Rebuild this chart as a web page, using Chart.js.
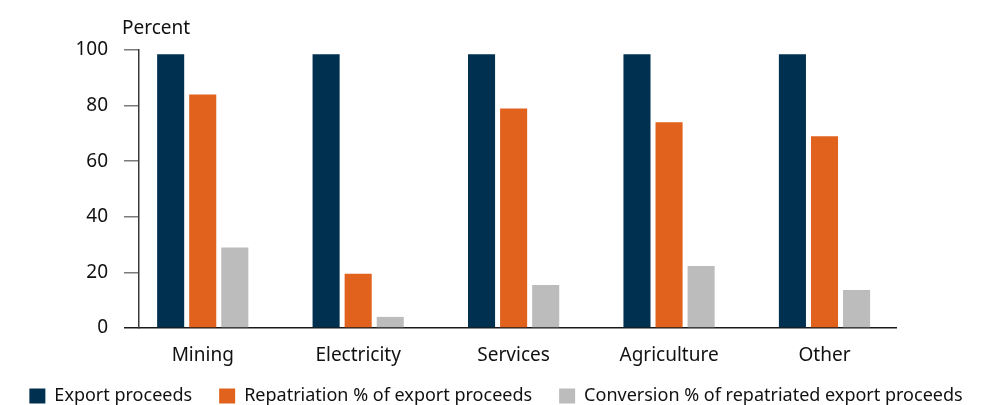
<!DOCTYPE html>
<html>
<head>
<meta charset="utf-8">
<script src="https://cdn.jsdelivr.net/npm/chart.js@4/dist/chart.umd.min.js"></script>
<style>
  html, body { margin: 0; padding: 0; background: #ffffff; }
  #wrap { width: 992px; height: 405px; position: relative; }
</style>
</head>
<body>
<div id="wrap"><canvas id="c" width="992" height="405"></canvas></div>
<script>
const categories = ['Mining', 'Electricity', 'Services', 'Agriculture', 'Other'];
const exportProceeds = [98.5, 98.5, 98.5, 98.5, 98.5];
const repatriation = [84, 19.5, 79, 74, 69];
const conversion = [29, 4, 15.5, 22.3, 13.7];
const seriesNames = ['Export proceeds', 'Repatriation % of export proceeds', 'Conversion % of repatriated export proceeds'];
const yTicks = [0, 20, 40, 60, 80, 100];
const yTitle = 'Percent';

const FONT = '"Noto Sans", "Open Sans", sans-serif';
const X_MIN = -0.41, X_MAX = 4.46;

// each bar sits at its category index on the x scale
const toPoints = (arr) => arr.map((v, i) => ({ x: i, y: v }));

const yTitlePlugin = {
  id: 'yTitlePlugin',
  afterDraw(chart) {
    const ctx = chart.ctx;
    const a = chart.chartArea;
    ctx.save();
    ctx.font = '19px ' + FONT;
    ctx.fillStyle = '#111111';
    ctx.textAlign = 'left';
    ctx.textBaseline = 'alphabetic';
    ctx.fillText(yTitle, a.left - 17, a.top - 16);
    ctx.restore();
  }
};

new Chart(document.getElementById('c'), {
  type: 'bar',
  data: {
    datasets: [
      { label: seriesNames[0], data: toPoints(exportProceeds), backgroundColor: '#00304F' },
      { label: seriesNames[1], data: toPoints(repatriation), backgroundColor: '#E1621C' },
      { label: seriesNames[2], data: toPoints(conversion), backgroundColor: '#BCBCBC' }
    ]
  },
  options: {
    responsive: false,
    animation: false,
    devicePixelRatio: 1,
    layout: { padding: { left: 0, right: 0, top: 50, bottom: 0 } },
    datasets: { bar: { categoryPercentage: 0.619, barPercentage: 0.844 } },
    scales: {
      x: {
        type: 'linear',
        offset: false,
        bounds: 'data',
        min: X_MIN, max: X_MAX,
        grid: { display: false, offset: false },
        border: { display: true, color: '#1a1a1a', width: 1.5 },
        afterBuildTicks(scale) {
          scale.ticks = categories.map((_, i) => ({ value: i }));
          scale.min = X_MIN;
          scale.max = X_MAX;
        },
        ticks: {
          color: '#111111', font: { family: FONT, size: 19 }, padding: 8, maxRotation: 0,
          autoSkip: false,
          callback: (v) => categories[v] !== undefined ? categories[v] : ''
        },
        afterFit(scale) {
          scale.height = 32;
          scale._computeLabelArea = () => undefined;
        }
      },
      y: {
        min: 0, max: 100,
        afterBuildTicks(scale) { scale.ticks = yTicks.map(v => ({ value: v })); },
        grid: {
          display: true, drawOnChartArea: false, drawTicks: true, tickLength: 15,
          lineWidth: 1.5,
          color: (c) => (c.tick && c.tick.value === 0) ? '#1a1a1a' : '#7a7a7a'
        },
        border: { display: true, color: '#3a3a3a', width: 1.5 },
        ticks: { color: '#111111', font: { family: FONT, size: 19 }, padding: 16 },
        afterFit(scale) { scale.width = 139; }
      },
      yRight: {
        position: 'right',
        display: true,
        grid: { display: false },
        border: { display: false },
        ticks: { display: false },
        afterFit(scale) { scale.width = 96; }
      }
    },
    plugins: {
      legend: {
        position: 'bottom',
        maxHeight: 45,
        labels: {
          boxWidth: 16, boxHeight: 15, padding: 27,
          color: '#111111',
          font: { family: FONT, size: 18 }
        }
      },
      tooltip: { enabled: false },
      title: { display: false }
    }
  },
  plugins: [yTitlePlugin]
});
</script>
</body>
</html>
